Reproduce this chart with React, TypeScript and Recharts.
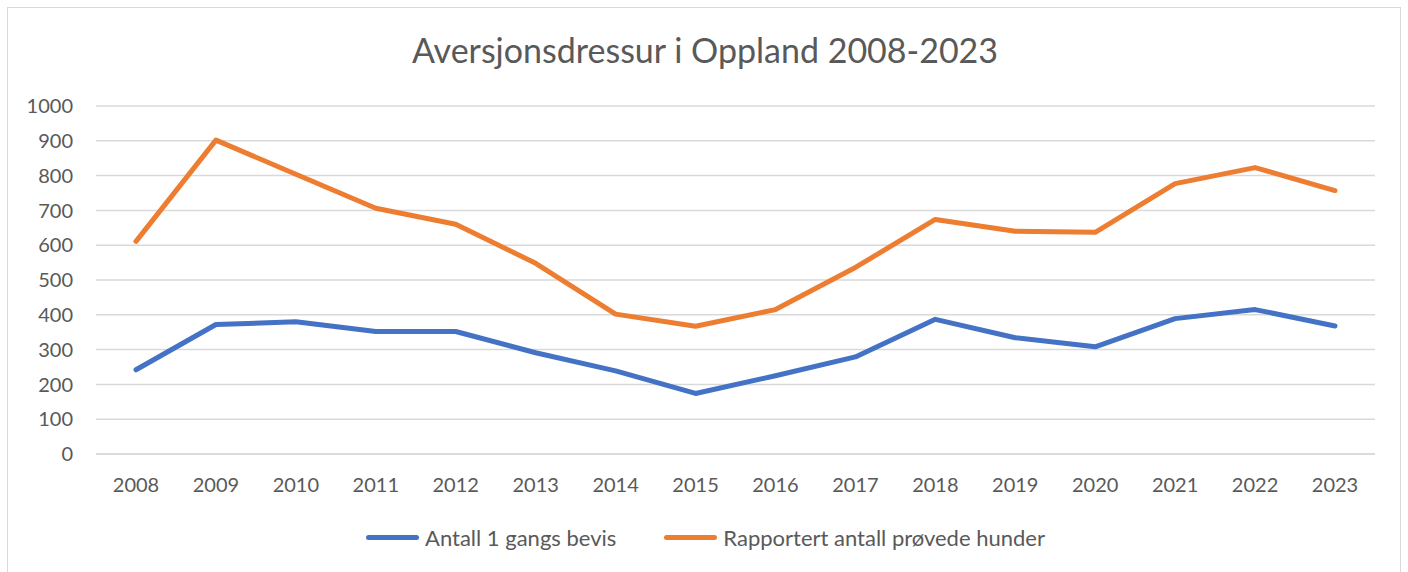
import { CartesianGrid, Legend, Line, LineChart, XAxis, YAxis } from 'recharts'

const years = [
  '2008', '2009', '2010', '2011', '2012', '2013', '2014', '2015',
  '2016', '2017', '2018', '2019', '2020', '2021', '2022', '2023',
]
const bevis = [242, 372, 380, 352, 352, 291, 239, 174, 225, 279, 387, 334, 308, 389, 415, 368]
const provede = [611, 902, 804, 706, 660, 548, 402, 367, 415, 536, 674, 640, 637, 777, 823, 757]
const yTicks = [0, 100, 200, 300, 400, 500, 600, 700, 800, 900, 1000]

const FONT = 'Lato, "Open Sans", sans-serif'
const TEXT = '#595959'
const GRID = '#d9d9d9'

const data = years.map((year, i) => ({
  year,
  bevis: bevis[i],
  provede: provede[i],
}))

function LegendContent({ payload }: { payload?: any[] }) {
  return (
    <div style={{ display: 'flex', justifyContent: 'center', gap: 48, fontFamily: FONT, fontSize: 22, color: TEXT }}>
      {(payload ?? []).map((entry) => (
        <div key={entry.value} style={{ display: 'flex', alignItems: 'center', gap: 6 }}>
          <span style={{ display: 'inline-block', width: 53, height: 5, borderRadius: 3, background: entry.color }} />
          <span>{entry.value}</span>
        </div>
      ))}
    </div>
  )
}

export default function App() {
  return (
    <div style={{ position: 'absolute', top: 0, left: 0, width: 1408, height: 572, background: '#fff', overflow: 'hidden' }}>
      <div
        style={{
          position: 'absolute', left: 7, top: 7, width: 1394, height: 600,
          border: `1.5px solid ${GRID}`, boxSizing: 'border-box',
        }}
      />
      <div
        style={{
          position: 'absolute', left: 0, width: 1410, top: 29, textAlign: 'center',
          fontFamily: FONT, fontSize: 34, color: TEXT, lineHeight: '42px',
        }}
      >
        Aversjonsdressur i Oppland 2008-2023
      </div>
      <div style={{ position: 'absolute', left: 0, top: 0 }}>
        <LineChart width={1408} height={572} data={data} margin={{ top: 106, right: 33, bottom: 61, left: 36 }}>
          <CartesianGrid vertical={false} stroke={GRID} strokeWidth={1.5} />
          <XAxis
            dataKey="year"
            padding={{ left: 40, right: 40 }}
            axisLine={{ stroke: GRID, strokeWidth: 1.5 }}
            tickLine={false}
            tickSize={0}
            tickMargin={24}
            tick={{ fontFamily: FONT, fontSize: 20, fill: TEXT }}
            interval={0}
          />
          <YAxis
            width={60}
            domain={[0, 1000]}
            ticks={yTicks}
            axisLine={false}
            tickLine={false}
            tickSize={0}
            tickMargin={23}
            tick={{ fontFamily: FONT, fontSize: 20, fill: TEXT }}
          />
          <Legend verticalAlign="bottom" wrapperStyle={{ bottom: 21 }} content={<LegendContent />} />
          <Line
            dataKey="bevis"
            name="Antall 1 gangs bevis"
            stroke="#4472C4"
            strokeWidth={5}
            strokeLinecap="round"
            strokeLinejoin="round"
            dot={false}
            activeDot={false}
            isAnimationActive={false}
          />
          <Line
            dataKey="provede"
            name="Rapportert antall prøvede hunder"
            stroke="#ED7D31"
            strokeWidth={5}
            strokeLinecap="round"
            strokeLinejoin="round"
            dot={false}
            activeDot={false}
            isAnimationActive={false}
          />
        </LineChart>
      </div>
    </div>
  )
}
